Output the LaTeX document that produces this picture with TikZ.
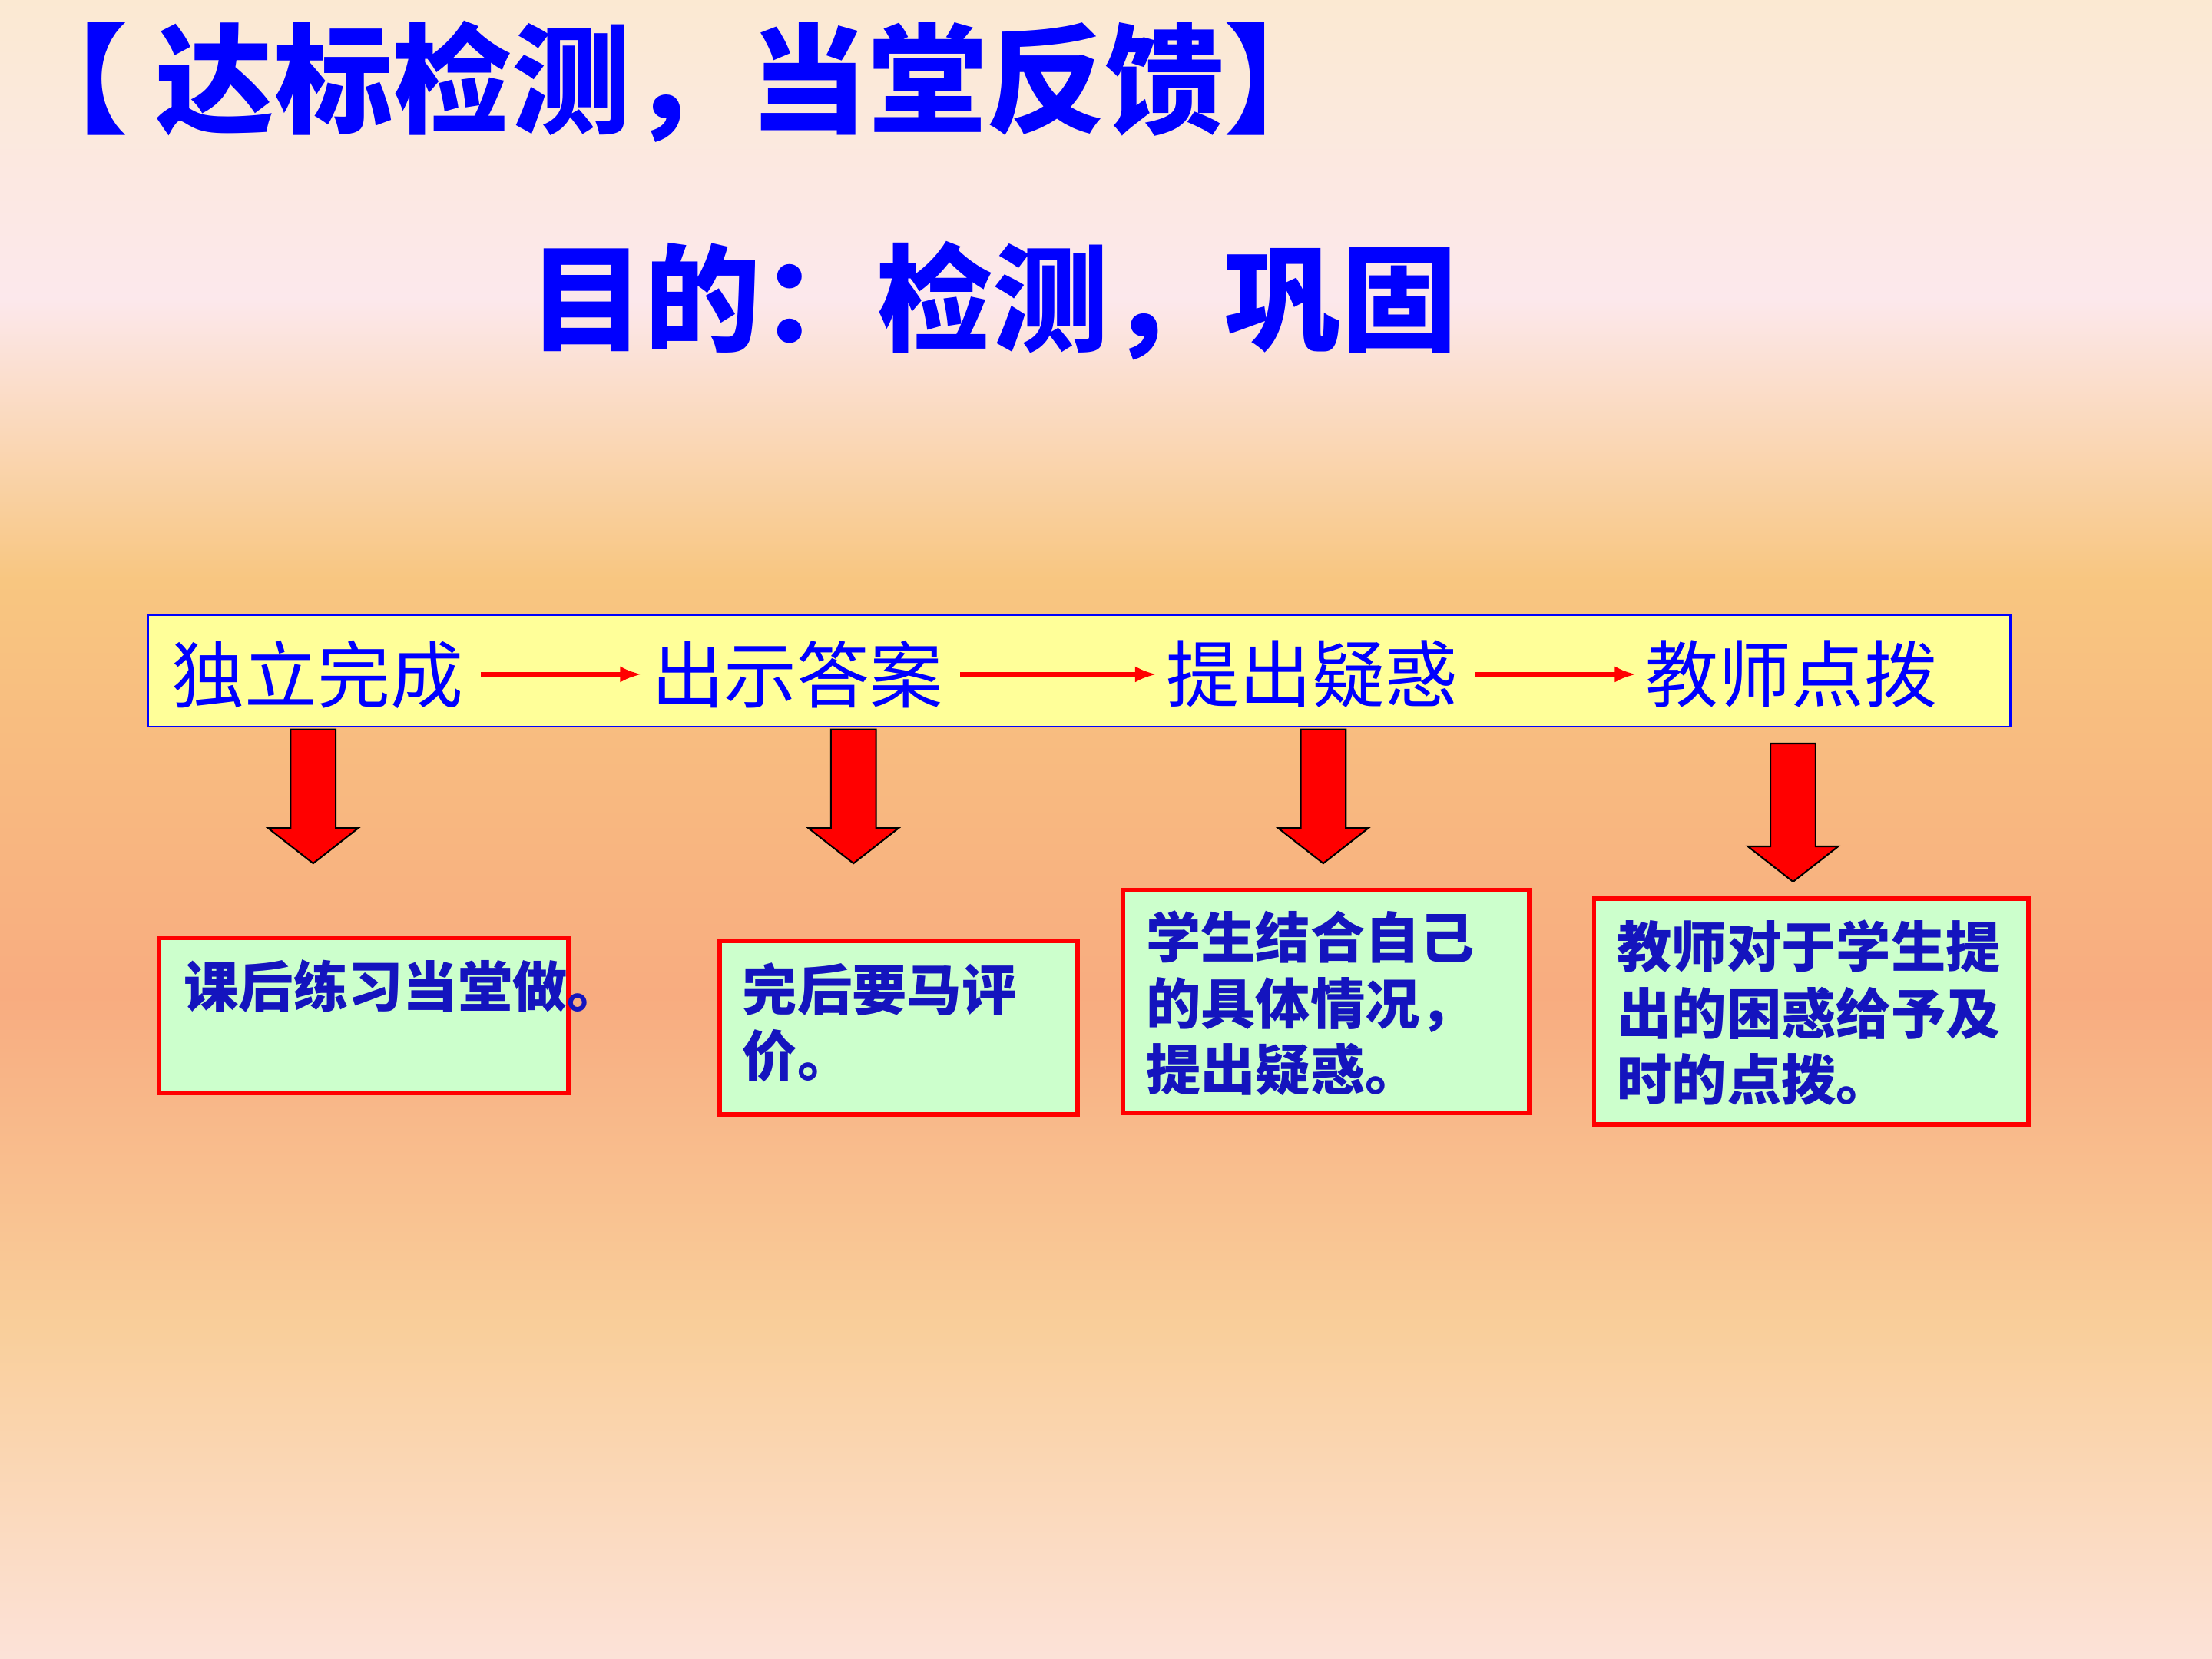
\documentclass[tikz,border=0pt]{standalone}
\usepackage{fontspec}
\newfontfamily\cjk{Noto Sans CJK SC}
\usepackage{tikz}
\usetikzlibrary{arrows.meta, positioning, calc}
\definecolor{titleblue}{RGB}{0, 0, 255}
\definecolor{darkblue}{RGB}{20, 20, 190}
\definecolor{stepfill}{RGB}{255, 255, 153}
\definecolor{notefill}{RGB}{204, 255, 204}
\definecolor{bgtop}{RGB}{251, 233, 210}
\definecolor{bgpink}{RGB}{252, 232, 236}
\definecolor{bgorange}{RGB}{248, 198, 128}
\definecolor{bgsalmon}{RGB}{248, 172, 128}
\definecolor{bgbottom}{RGB}{252, 226, 216}
\pgfdeclareverticalshading{slidebg}{100bp}{
  color(0bp)=(bgbottom); color(25bp)=(bgbottom); color(35bp)=(bgorange!70!bgbottom); color(45bp)=(bgsalmon);
  color(57.5bp)=(bgorange); color(66bp)=(bgpink); color(75bp)=(bgtop); color(100bp)=(bgtop)}
\tikzstyle{stepword} = [text=titleblue, font=\cjk\fontsize{27}{32}\selectfont, anchor=center]
\tikzstyle{note} = [draw=red, line width=1.6pt, fill=notefill]
\tikzstyle{notetext} = [text=darkblue, font=\cjk\bfseries\fontsize{20.3}{24.5}\selectfont, align=left, anchor=north west, inner sep=0pt]
\tikzstyle{arrow} = [red, line width=1.6pt, -{Latex[length=8pt,width=6pt]}, shorten <=3pt]
\newcommand{\downarrowblock}[3]{% x, top, bottom
  \draw[fill=red, line width=0.6pt] (#1-16,#2) -- (#1+16,#2) -- (#1+16,#3-25) -- (#1+32,#3-25)
    -- (#1,#3) -- (#1-32,#3-25) -- (#1-16,#3-25) -- cycle;}

\begin{document}
\begin{tikzpicture}[x=0.018367cm, y=-0.018367cm]
    \useasboundingbox (0,0) rectangle (1568,1176);
    \shade[shading=slidebg] (0,0) rectangle (1568,1176);

    % Title
    \node[text=titleblue, font=\cjk\bfseries\fontsize{44}{50}\selectfont, anchor=west] (title) at (0,58) {【 达标检测，当堂反馈】};
    \node[text=titleblue, font=\cjk\bfseries\fontsize{43}{50}\selectfont, anchor=west] (aim) at (368,213) {目的：检测，巩固};

    % Steps
    \draw[draw=titleblue, line width=0.8pt, fill=stepfill] (105,436) rectangle (1425,515);
    \node[stepword] (w1) at (225,478) {独立完成};
    \node[stepword] (w2) at (565,478) {出示答案};
    \node[stepword] (w3) at (930,478) {提出疑惑};
    \node[stepword] (w4) at (1270,478) {教师点拨};
    \draw[arrow] (w1.east) -- (w2.west);
    \draw[arrow] (w2.east) -- (w3.west);
    \draw[arrow] (w3.east) -- (w4.west);

    % Block arrows
    \downarrowblock{222}{517}{612}
    \downarrowblock{605}{517}{612}
    \downarrowblock{938}{517}{612}
    \downarrowblock{1271}{527}{625}

    % Notes
    \draw[note] (113,665) rectangle (403,775);
    \node[notetext] (n1) at (130,680) {课后练习当堂做。};
    \draw[note] (510,667) rectangle (764,790);
    \node[notetext] (n2) at (526,682) {完后要马评\\价。};
    \draw[note] (796,631) rectangle (1084,789);
    \node[notetext] (n3) at (812,645) {学生结合自己\\的具体情况，\\提出疑惑。};
    \draw[note] (1130,637) rectangle (1438,797);
    \node[notetext] (n4) at (1146,652) {教师对于学生提\\出的困惑给予及\\时的点拨。};
\end{tikzpicture}
\end{document}
